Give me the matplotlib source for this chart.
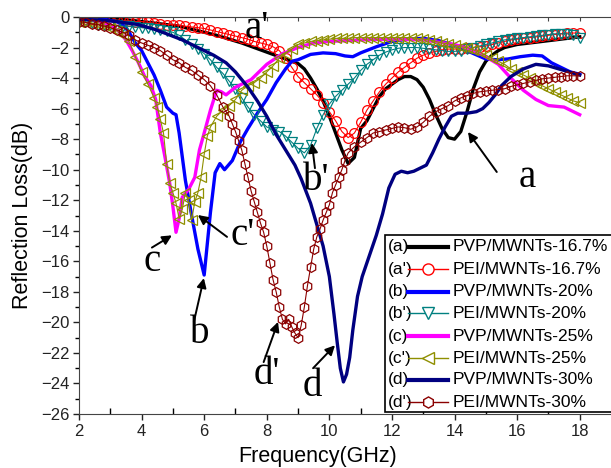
import numpy as np
import matplotlib
matplotlib.use('Agg')
import matplotlib.pyplot as plt
from matplotlib.patches import Rectangle
from matplotlib.lines import Line2D

plt.rcParams['font.family'] = ['Liberation Sans', 'DejaVu Sans']

# (a) PVP/MWNTs-16.7%  black line
f_a = [2.0, 2.4, 2.8, 3.2, 3.6, 4.0, 4.4, 4.8, 5.2, 5.6, 6.0, 6.4, 6.8, 7.2, 7.6, 8.0, 8.4, 8.8,
       9.0, 9.2, 9.4, 9.6, 9.8, 10.0, 10.2, 10.4, 10.6, 10.8, 11.0, 11.2, 11.4, 11.6, 11.8, 12.0,
       12.2, 12.4, 12.6, 12.8, 13.0, 13.2, 13.4, 13.6, 13.8, 14.0, 14.2, 14.4, 14.6, 14.8, 15.0,
       15.2, 15.4, 15.6, 15.8, 16.0, 16.4, 16.8, 17.2, 17.6, 18.0]
rl_a = [-0.05, -0.1, -0.1, -0.15, -0.2, -0.3, -0.4, -0.5, -0.6, -0.8, -1.0, -1.2, -1.45, -1.7,
        -2.0, -2.3, -2.6, -2.9, -3.05, -3.4, -4.0, -4.7, -5.5, -6.5, -7.6, -8.7, -9.6, -9.2,
        -7.3, -6.8, -6.0, -5.2, -4.7, -4.4, -4.1, -3.9, -3.9, -4.1, -4.6, -5.4, -6.4, -7.3,
        -7.9, -8.0, -7.5, -6.2, -4.7, -3.6, -2.9, -2.5, -2.2, -2.0, -1.9, -1.8, -1.7, -1.6,
        -1.5, -1.4, -1.3]

# (a') PEI/MWNTs-16.7%  red circles
f_a2 = list(np.round(np.arange(2.0, 18.01, 0.2), 1))
rl_a2 = [-0.1, -0.1, -0.1, -0.15, -0.15, -0.2, -0.2, -0.25, -0.25, -0.3, -0.3, -0.35, -0.4,
         -0.45, -0.5, -0.5, -0.55, -0.6, -0.65, -0.7, -0.75, -0.85, -0.95, -1.05, -1.15, -1.25,
         -1.35, -1.45, -1.6, -1.7, -1.8, -1.95, -2.2, -2.7, -3.3, -3.9, -4.3, -4.7, -5.1, -5.6,
         -6.2, -6.8, -7.5, -7.9, -7.6, -6.9, -6.1, -5.5, -4.9, -4.4, -4.0, -3.6, -3.3, -3.0,
         -2.7, -2.5, -2.35, -2.25, -2.15, -2.1, -2.1, -2.1, -2.05, -2.0, -1.95, -1.9, -1.8,
         -1.7, -1.6, -1.5, -1.45, -1.4, -1.35, -1.3, -1.25, -1.2, -1.15, -1.1, -1.05, -1.05,
         -1.05]

# (b) PVP/MWNTs-20%  blue line
f_b = [2.0, 2.4, 2.8, 3.2, 3.4, 3.6, 3.8, 4.0, 4.2, 4.4, 4.6, 4.8, 5.0, 5.1, 5.2, 5.4, 5.6, 5.8,
       6.0, 6.2, 6.35, 6.5, 6.65, 6.9, 7.15, 7.4, 7.7, 8.0, 8.3, 8.6, 8.8, 9.0, 9.4, 9.8, 10.2,
       10.5, 10.75, 11.0, 11.5, 12.0, 12.5, 13.0, 13.5, 14.0, 14.5, 15.0, 15.35, 15.7, 16.1,
       16.5, 16.8, 17.1, 17.4, 17.7, 18.0]
rl_b = [-0.05, -0.1, -0.15, -0.3, -0.5, -1.0, -1.7, -2.2, -3.0, -3.8, -4.8, -5.9, -6.3, -6.4,
        -7.6, -10.7, -13.0, -15.2, -16.9, -12.8, -10.2, -9.6, -10.0, -9.4, -8.2, -7.3, -6.3,
        -5.4, -4.3, -3.4, -2.9, -2.8, -2.45, -2.35, -2.4, -2.55, -2.6, -2.35, -1.95, -1.6,
        -1.45, -1.4, -1.55, -1.85, -2.3, -2.75, -2.8, -2.75, -2.6, -2.5, -2.55, -3.0, -3.3,
        -3.6, -3.75]

# (b') PEI/MWNTs-20%  teal down triangles
f_b2 = list(np.round(np.arange(2.0, 18.01, 0.2), 1))
rl_b2 = [-0.2, -0.3, -0.4, -0.5, -0.55, -0.55, -0.55, -0.6, -0.6, -0.65, -0.7, -0.75, -0.8,
         -0.85, -0.9, -1.0, -1.2, -1.5, -1.8, -2.1, -2.4, -2.8, -3.3, -3.7, -4.2, -4.7, -5.3,
         -5.9, -6.4, -6.8, -7.2, -7.4, -7.5, -7.8, -8.2, -8.6, -8.9, -8.4, -7.3, -6.4, -5.7,
         -5.2, -4.8, -4.4, -4.0, -3.5, -3.1, -2.8, -2.5, -2.3, -2.15, -2.05, -2.0, -2.0, -2.0,
         -2.05, -2.1, -2.15, -2.2, -2.25, -2.25, -2.2, -2.1, -2.0, -1.9, -1.8, -1.7, -1.6,
         -1.5, -1.45, -1.4, -1.35, -1.3, -1.25, -1.2, -1.15, -1.1, -1.1, -1.1, -1.2, -1.4]

# (c) PVP/MWNTs-25%  magenta line
f_c = [2.0, 2.5, 3.0, 3.3, 3.5, 3.7, 3.9, 4.1, 4.3, 4.45, 4.6, 4.75, 4.9, 5.0, 5.1, 5.2, 5.3,
       5.5, 5.7, 5.85, 6.0, 6.2, 6.4, 6.55, 6.7, 7.0, 7.5, 8.0, 8.5, 9.0, 9.5, 10.0, 11.0, 12.0,
       13.0, 14.0, 14.5, 15.0, 15.4, 15.8, 16.2, 16.6, 17.0, 17.5, 17.8, 18.0]
rl_c = [-0.1, -0.2, -0.5, -1.0, -1.5, -2.2, -3.0, -3.9, -4.5, -5.4, -7.6, -9.2, -10.9, -12.4,
        -14.1, -13.2, -11.8, -11.3, -10.5, -8.7, -7.6, -6.1, -4.8, -4.9, -5.1, -4.6, -4.1,
        -3.1, -2.4, -2.0, -1.7, -1.6, -1.5, -1.45, -1.5, -1.8, -2.1, -2.6, -3.1, -4.0, -4.8,
        -5.4, -5.8, -5.9, -6.2, -6.4]

# (c') PEI/MWNTs-25%  olive left triangles
f_c2 = [2.0, 2.2, 2.4, 2.6, 2.8, 3.0, 3.2, 3.4, 3.6, 3.8, 4.0, 4.2, 4.4, 4.5, 4.6, 4.7, 4.8,
        4.9, 5.0, 5.1, 5.2, 5.3, 5.4, 5.5, 5.6, 5.7, 5.8, 5.9, 6.0, 6.1, 6.2, 6.4, 6.6, 6.8,
        7.0, 7.2, 7.4, 7.6, 7.8, 8.0, 8.2, 8.4, 8.6, 8.8, 9.0, 9.2, 9.4, 9.6, 9.8, 10.0, 10.2,
        10.4, 10.6, 10.8, 11.0, 11.2, 11.4, 11.6, 11.8, 12.0, 12.2, 12.4, 12.6, 12.8, 13.0,
        13.2, 13.4, 13.6, 13.8, 14.0, 14.2, 14.4, 14.6, 14.8, 15.0, 15.2, 15.4, 15.6, 15.8,
        16.0, 16.2, 16.4, 16.6, 16.8, 17.0, 17.2, 17.4, 17.6, 17.8, 18.0]
rl_c2 = [-0.3, -0.35, -0.4, -0.45, -0.55, -0.7, -0.9, -1.2, -1.6, -2.6, -3.6, -4.4, -5.3,
         -5.9, -6.7, -7.6, -9.6, -10.9, -11.5, -12.2, -13.2, -12.6, -11.5, -12.0, -13.3,
         -12.1, -11.5, -10.5, -9.0, -7.8, -7.2, -6.5, -6.1, -5.8, -5.4, -4.8, -4.5, -4.3,
         -4.0, -3.6, -3.2, -2.7, -2.4, -2.1, -1.8, -1.7, -1.6, -1.55, -1.5, -1.45, -1.4, -1.4,
         -1.4, -1.35, -1.35, -1.35, -1.35, -1.35, -1.35, -1.35, -1.35, -1.35, -1.35, -1.4,
         -1.45, -1.5, -1.6, -1.7, -1.75, -1.85, -1.95, -2.0, -2.15, -2.3, -2.5, -2.7, -2.9,
         -3.1, -3.4, -3.6, -3.8, -4.0, -4.3, -4.5, -4.7, -4.9, -5.1, -5.3, -5.5, -5.6]

# (d) PVP/MWNTs-30%  navy line
f_d = [2.0, 2.7, 3.2, 3.9, 4.4, 4.8, 5.3, 5.9, 6.3, 6.7, 7.0, 7.4, 7.7, 8.0, 8.3, 8.6, 8.9, 9.1,
       9.4, 9.6, 9.8, 10.0, 10.15, 10.25, 10.35, 10.45, 10.55, 10.65, 10.75, 10.9, 11.05, 11.2,
       11.35, 11.5, 11.7, 11.9, 12.1, 12.3, 12.5, 12.7, 12.9, 13.1, 13.3, 13.5, 13.7, 13.9,
       14.1, 14.4, 14.7, 14.9, 15.1, 15.3, 15.5, 15.8, 16.2, 16.6, 17.0, 17.5, 18.0]
rl_d = [-0.15, -0.2, -0.3, -0.5, -0.8, -1.1, -1.5, -2.1, -2.5, -3.0, -3.6, -4.6, -5.5, -6.5,
        -7.7, -8.7, -9.7, -10.6, -12.2, -13.6, -15.0, -17.0, -19.5, -21.3, -23.0, -23.9,
        -23.4, -22.3, -20.5, -18.3, -17.0, -16.1, -15.2, -14.3, -12.9, -11.2, -10.3, -10.1,
        -10.2, -10.1, -9.9, -9.7, -8.9, -8.0, -7.2, -6.5, -6.3, -6.3, -6.2, -6.0, -5.6, -5.1,
        -4.5, -3.9, -3.4, -3.1, -3.2, -3.5, -3.8]

# (d') PEI/MWNTs-30%  maroon hexagons
f_d2 = [2.0, 2.2, 2.4, 2.6, 2.8, 3.0, 3.2, 3.4, 3.6, 3.8, 4.0, 4.2, 4.4, 4.6, 4.8, 5.0, 5.2,
        5.4, 5.6, 5.8, 6.0, 6.2, 6.4, 6.6, 6.8, 6.9, 7.0, 7.1, 7.2, 7.3, 7.4, 7.5, 7.6, 7.7,
        7.8, 7.9, 8.0, 8.1, 8.2, 8.3, 8.4, 8.5, 8.6, 8.7, 8.8, 8.9, 9.0, 9.1, 9.2, 9.3, 9.4,
        9.5, 9.6, 9.7, 9.8, 9.9, 10.0, 10.1, 10.2, 10.3, 10.4, 10.5, 10.6, 10.8, 11.0, 11.2,
        11.4, 11.6, 11.8, 12.0, 12.2, 12.4, 12.6, 12.8, 13.0, 13.2, 13.4, 13.6, 13.8, 14.0,
        14.2, 14.4, 14.6, 14.8, 15.0, 15.2, 15.4, 15.6, 15.8, 16.0, 16.2, 16.4, 16.6, 16.8,
        17.0, 17.2, 17.4, 17.6, 17.8, 18.0]
rl_d2 = [-0.3, -0.35, -0.45, -0.5, -0.6, -0.7, -0.85, -1.0, -1.2, -1.5, -1.7, -1.85, -2.0,
         -2.2, -2.5, -2.8, -3.0, -3.3, -3.5, -3.8, -4.1, -4.5, -5.1, -5.9, -6.5, -7.0, -7.5,
         -8.1, -8.7, -9.6, -10.5, -11.4, -12.1, -12.8, -13.5, -14.1, -15.0, -16.1, -17.2,
         -18.0, -19.0, -19.8, -20.1, -19.8, -20.3, -20.7, -21.0, -20.2, -19.0, -17.6, -16.4,
         -15.2, -14.4, -13.9, -13.3, -12.8, -12.3, -11.5, -11.0, -10.5, -10.0, -9.4, -8.9,
         -8.5, -8.2, -7.9, -7.6, -7.5, -7.4, -7.3, -7.2, -7.25, -7.35, -7.2, -6.9, -6.5,
         -6.2, -6.0, -5.8, -5.5, -5.3, -5.15, -5.0, -4.9, -4.85, -4.8, -4.75, -4.7, -4.55,
         -4.45, -4.35, -4.25, -4.15, -4.05, -4.0, -3.95, -3.9, -3.85, -3.85, -3.85]

prefixes = ["(a)", "(a')", "(b)", "(b')", "(c)", "(c')", "(d)", "(d')"]
names = ['PVP/MWNTs-16.7%', 'PEI/MWNTs-16.7%', 'PVP/MWNTs-20%', 'PEI/MWNTs-20%',
         'PVP/MWNTs-25%', 'PEI/MWNTs-25%', 'PVP/MWNTs-30%', 'PEI/MWNTs-30%']

fig = plt.figure(figsize=(6.11, 4.68), dpi=100)
ax = fig.add_axes([79/611, 1-414/468, 532/611, 397/468])

styles = [
    dict(color='black', lw=2.4),
    dict(color='red', lw=0.8, marker='o', ms=7, mfc='none', mew=0.9),
    dict(color='#0000ff', lw=2.4),
    dict(color='#008080', lw=0.8, marker='v', ms=7.5, mfc='none', mew=0.9),
    dict(color='#ff00ff', lw=2.4),
    dict(color='#8f8f00', lw=0.8, marker='<', ms=7.5, mfc='none', mew=0.9),
    dict(color='#000080', lw=2.4),
    dict(color='#8b0000', lw=0.8, marker='h', ms=7, mfc='none', mew=0.9),
]
series = [(f_a, rl_a), (f_a2, rl_a2), (f_b, rl_b), (f_b2, rl_b2),
          (f_c, rl_c), (f_c2, rl_c2), (f_d, rl_d), (f_d2, rl_d2)]
for (x, y), st in zip(series, styles):
    ax.plot(x, y, **st)

ax.set_xlim(2, 19)
ax.set_ylim(-26, 0)
ax.set_xticks(range(2, 19, 2))
ax.set_xticks(range(3, 19, 2), minor=True)
ax.set_yticks(range(-26, 1, 2))
ax.set_yticks(range(-25, 0, 2), minor=True)
ax.tick_params(which='major', direction='out', length=4, width=1, labelsize=12,
               colors='#222222', pad=3)
ax.tick_params(which='minor', direction='out', length=3, width=1)
ax.tick_params(axis='x', which='minor', direction='in', length=4)
ax.spines['right'].set_visible(False)
for s in ['left', 'bottom', 'top']:
    ax.spines[s].set_color('#444444')

# top ticks pointing inward
top = ax.secondary_xaxis('top')
top.set_xticks(range(2, 19))
top.tick_params(direction='in', length=3, labeltop=False, colors='#444444')
top.spines['top'].set_visible(False)

ax.set_xlabel('Frequency(GHz)', fontsize=15.5, va='center')
ax.set_ylabel('Reflection Loss(dB)', fontsize=15.5)
ax.xaxis.set_label_coords(0.448, -0.106)
ax.yaxis.set_label_coords(-0.087, 0.5)

# curve labels with arrows
serif = dict(family='Liberation Serif', fontsize=28, ha='center', va='center')
labels = [("a'", 7.69, -0.75, None),
          ("b'", 9.57, -10.7, ((9.54, -9.9), (9.44, -8.25))),
          ("a", 16.31, -10.5, ((15.35, -10.15), (14.43, -7.53))),
          ("b", 5.87, -20.7, ((5.67, -19.97), (5.99, -17.1))),
          ("c", 4.33, -16.0, ((4.33, -15.1), (4.97, -14.3))),
          ("c'", 7.24, -14.3, ((6.73, -14.4), (5.8, -12.97))),
          ("d'", 8.0, -23.4, ((7.9, -22.6), (8.36, -19.97))),
          ("d", 9.44, -24.2, ((9.48, -23.0), (10.18, -21.5)))]
for txt, x, y, arr in labels:
    ax.text(x, y, txt, **serif)
    if arr is not None:
        ax.annotate('', xy=arr[1], xytext=arr[0],
                    arrowprops=dict(arrowstyle='-|>', color='black', lw=1.4, mutation_scale=14,
                                    shrinkA=0, shrinkB=0))

# legend box drawn in axes coordinates
ax.add_patch(Rectangle((0.575, 0.005), 0.5, 0.446, transform=ax.transAxes, fill=True,
                       facecolor='white', edgecolor='black', lw=1.2, zorder=5, clip_on=False))
row_y = [0.421, 0.365, 0.308, 0.254, 0.196, 0.141, 0.086, 0.030]
for i, (p, n, st) in enumerate(zip(prefixes, names, styles)):
    yy = row_y[i]
    ax.text(0.581, yy, p, transform=ax.transAxes, fontsize=12.5, va='center', ha='left', zorder=6)
    ax.add_line(Line2D([0.619, 0.693], [yy, yy], transform=ax.transAxes, color=st['color'],
                       lw=3 if 'marker' not in st else 1.0, zorder=6, clip_on=False))
    if 'marker' in st:
        ax.add_line(Line2D([0.656], [yy], transform=ax.transAxes, color=st['color'],
                           marker=st['marker'], ms=8, mfc='white', mew=1.0, lw=0, zorder=7,
                           clip_on=False))
    ax.text(0.702, yy, n, transform=ax.transAxes, fontsize=12.5, va='center', ha='left', zorder=6)

fig.savefig('out.png', dpi=100)
